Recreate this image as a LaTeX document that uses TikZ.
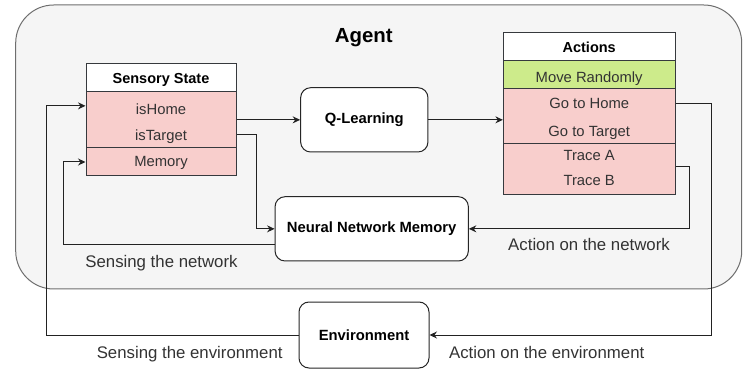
\documentclass[tikz,border=0pt]{standalone}
\usepackage{fontspec}
\setmainfont{Liberation Sans}
\usetikzlibrary{arrows.meta,calc}
\definecolor{agentfill}{HTML}{F5F5F5}
\definecolor{agentdraw}{HTML}{6E6E6E}
\definecolor{pinkrow}{HTML}{F8CECC}
\definecolor{greenrow}{HTML}{CDEB8B}
\definecolor{tabdraw}{HTML}{36393D}
\definecolor{txt}{HTML}{333333}
\definecolor{linec}{HTML}{222222}
\begin{document}
\begin{tikzpicture}[x=1pt,y=-1pt,
  rowtxt/.style={font=\fontsize{14.8}{17}\selectfont, text=txt, inner sep=0pt, text height=10.6pt, text depth=0pt},
  headtxt/.style={font=\bfseries\fontsize{14.5}{17}\selectfont, text=black, inner sep=0pt, text height=10.4pt, text depth=0pt},
  lbl/.style={font=\fontsize{16.8}{19}\selectfont, text=txt, inner sep=0pt, text height=12pt, text depth=0pt},
  cell/.style={draw=tabdraw, line width=1pt, inner sep=0pt},
  rbox/.style={draw=black!85, fill=white, line width=1pt, rounded corners=10pt, inner sep=0pt,
    font=\bfseries\fontsize{14.8}{17}\selectfont},
  arr/.style={draw=linec, line width=1pt, -{Stealth[length=7.5pt,width=7pt,inset=2.5pt]}}]
\useasboundingbox (0,0) rectangle (752,371);
% Agent container
\node[draw=agentdraw, fill=agentfill, line width=1pt, rounded corners=38pt,
  minimum width=726pt, minimum height=284pt] (agent) at (378.7,147) {};
\node[font=\bfseries\fontsize{20.4}{24}\selectfont, inner sep=0pt, text height=14.6pt, text depth=0pt] (agentlbl) at (363.7,35.7) {Agent};

% Sensory State table
\node[cell, fill=white, minimum width=150pt, minimum height=28.3pt] (sshead) at (161,77.5) {};
\node[cell, fill=pinkrow, minimum width=150pt, minimum height=56.3pt] (ssbody) at (161,119.85) {};
\node[cell, fill=pinkrow, minimum width=150pt, minimum height=28pt] (mem) at (161,162) {};
\node[headtxt] (sstitle) at (161,78.3) {Sensory State};
\node[rowtxt] (ishome) at (161,109.3) {isHome};
\node[rowtxt] (istarget) at (161,135) {isTarget};
\node[rowtxt] (memtxt) at (161,161) {Memory};

% Actions table
\node[cell, fill=white, minimum width=171.7pt, minimum height=28.4pt] (acthead) at (589.2,46.5) {};
\node[cell, fill=greenrow, minimum width=171.7pt, minimum height=28.3pt] (actrand) at (589.2,74.85) {};
\node[cell, fill=pinkrow, minimum width=171.7pt, minimum height=55pt] (actbody) at (589.2,116.5) {};
\node[cell, fill=pinkrow, minimum width=171.7pt, minimum height=51pt] (tracebody) at (589.2,169.5) {};
\node[headtxt] (acttitle) at (589.2,47.7) {Actions};
\node[rowtxt] (moverand) at (589.2,77) {Move Randomly};
\node[rowtxt] (gohome) at (589.2,103.3) {Go to Home};
\node[rowtxt] (gotarget) at (589.2,131) {Go to Target};
\node[rowtxt] (tracea) at (589.2,155) {Trace A};
\node[rowtxt] (traceb) at (589.2,180.5) {Trace B};

% Rounded boxes
\node[rbox, minimum width=127.3pt, minimum height=64.3pt] (ql) at (364.3,119.85) {Q-Learning};
\node[rbox, minimum width=193.3pt, minimum height=64.3pt] (nnm) at (371.7,228.85) {Neural Network Memory};
\node[rbox, minimum width=130pt, minimum height=66pt] (env) at (364,335) {Environment};

% Connectors
\draw[arr] (ssbody.east) -- (ql.west);
\draw[arr] (ql.east) -- (actbody.west |- ql.east);
\draw[arr] (ssbody.east |- istarget) -- ++(20,0) |- (nnm.west);
\draw[arr] ($(nnm.west)+(0,16)$) -- ++(-211,0) |- (mem.west);
\draw[arr] ($(tracebody.east)+(0,-2.8)$) -- ++(14.3,0) |- (nnm.east);
\draw[arr] (actbody.east |- gohome) -- ++(35.7,0) |- (env.east);
\draw[arr] (env.west) -- ++(-252,0) |- ($(ssbody.west)+(0,-14)$);

% Labels
\node[lbl] (snet) at (161.5,262) {Sensing the network};
\node[lbl] (anet) at (589,245) {Action on the network};
\node[lbl] (senv) at (189.7,352) {Sensing the environment};
\node[lbl] (aenv) at (546.7,352) {Action on the environment};
\end{tikzpicture}
\end{document}
